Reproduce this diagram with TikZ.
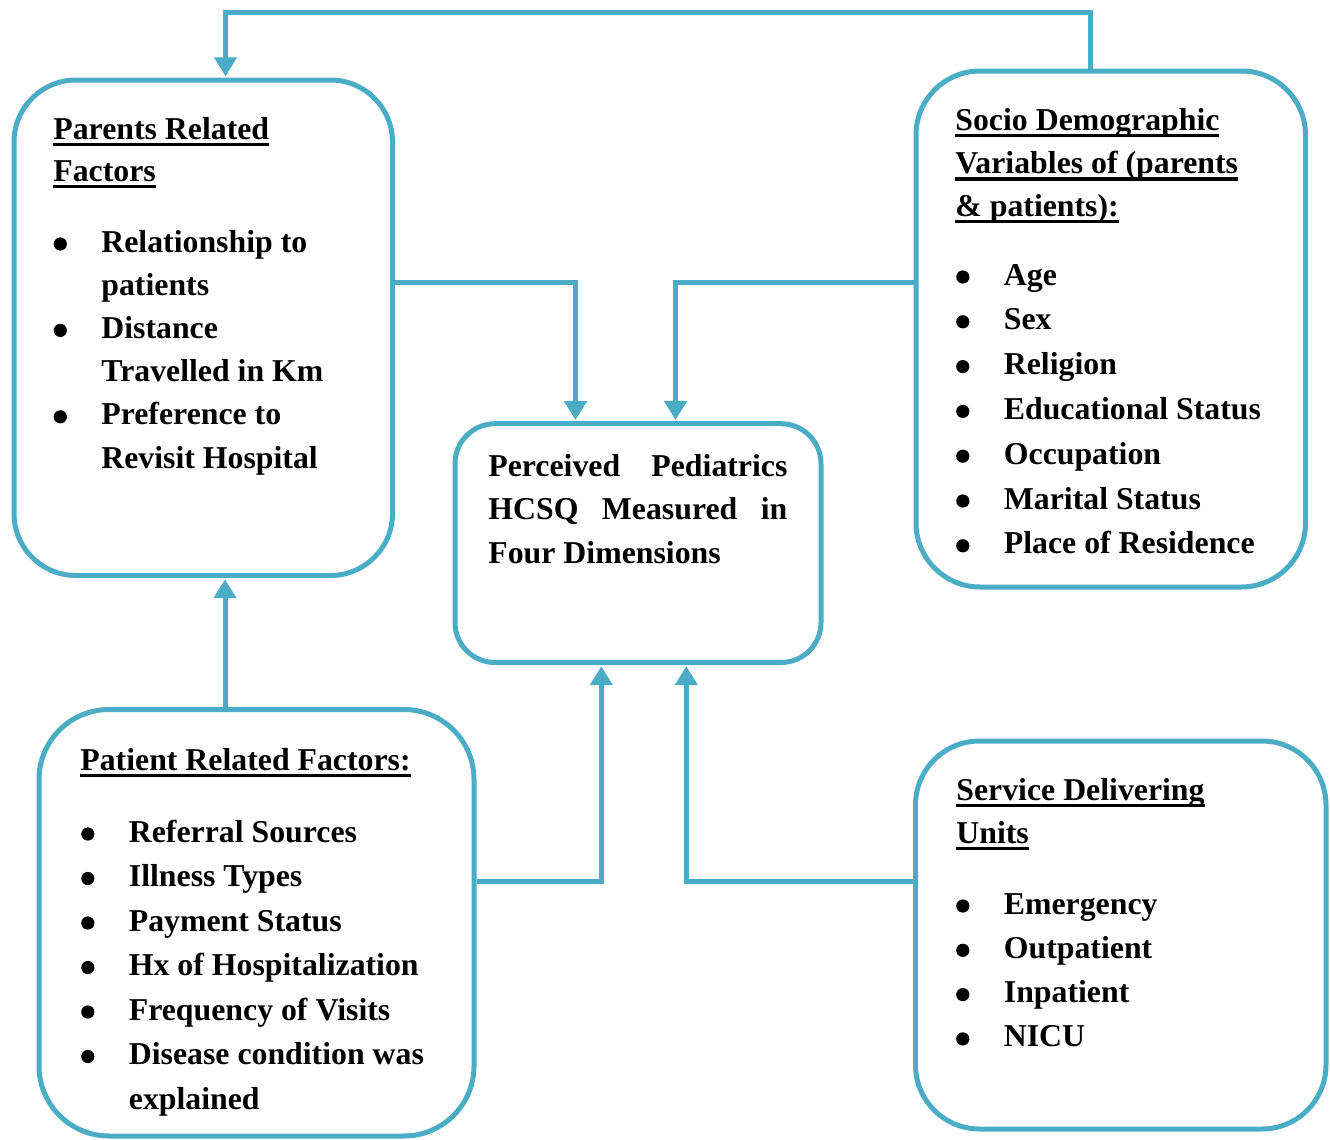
\documentclass[tikz,border=0pt]{standalone}
\usepackage{fontspec}
\setmainfont{Liberation Serif}
\usetikzlibrary{arrows.meta}
\definecolor{hcblue}{HTML}{4BACC6}
\newsavebox{\hdbox}
\newcommand{\hd}[1]{\sbox{\hdbox}{#1}\rlap{\rule[-3.5pt]{\wd\hdbox}{1.65pt}}\usebox{\hdbox}}
\tikzset{
  box/.style={draw=hcblue, line width=2.5pt, inner sep=0pt},
  link/.style={draw=hcblue, line width=2.5pt, -{Triangle[width=11pt,length=9.5pt]}, shorten >=0.6pt},
  txt/.style={anchor=base west, inner sep=0pt, font=\bfseries\fontsize{15.9}{19}\selectfont},
  item/.style={txt, append after command={\pgfextra{\fill ([shift={(-20.35pt,4pt)}]\tikzlastnode.base west) circle (3.3pt);}}},
}
\begin{document}
\begin{tikzpicture}[x=0.5pt, y=-0.5pt]
  \useasboundingbox (0,0) rectangle (1330,1140);

  % boxes
  \node[box, rounded corners=31pt, minimum width=189.25pt, minimum height=247.75pt] (parents) at (203.25,327.75) {};
  \node[box, rounded corners=32pt, minimum width=194.75pt, minimum height=258pt] (socio) at (1110.75,329) {};
  \node[box, rounded corners=20pt, minimum width=183pt, minimum height=119.4pt] (center) at (638,543.1) {};
  \node[box, rounded corners=35pt, minimum width=217.5pt, minimum height=213.25pt] (patient) at (256.5,922.75) {};
  \node[box, rounded corners=32pt, minimum width=205.25pt, minimum height=194pt] (service) at (1120.75,935) {};

  % parents related factors
  \node[txt] (parh1) at (53,139) {\hd{Parents Related}};
  \node[txt] (parh2) at (53,181) {\hd{Factors}};
  \foreach \t/\s [count=\i from 0] in {Relationship to/item, patients/txt, Distance/item,
      Travelled in Km/txt, Preference to/item, Revisit Hospital/txt}
    \node[\s] (par\i) at (101,252+43.2*\i) {\t};

  % socio demographic variables
  \node[txt] (soch1) at (955,130) {\hd{Socio Demographic}};
  \node[txt] (soch2) at (955,173.5) {\hd{Variables of (parents}};
  \node[txt] (soch3) at (955,216) {\hd{\& patients):}};
  \foreach \t [count=\i from 0] in {Age, Sex, Religion, Educational Status, Occupation,
      Marital Status, Place of Residence}
    \node[item] (soc\i) at (1003.5,285+44.8*\i) {\t};

  % perceived HCSQ
  \node[txt] (cen1) at (488,476) {\makebox[149.5pt][s]{Perceived Pediatrics}};
  \node[txt] (cen2) at (488,519.5) {\makebox[149.5pt][s]{HCSQ Measured in}};
  \node[txt] (cen3) at (488,563) {Four Dimensions};

  % patient related factors
  \node[txt] (path1) at (80,770) {\hd{Patient Related Factors:}};
  \foreach \t/\s [count=\i from 0] in {Referral Sources/item, Illness Types/item, Payment Status/item,
      Hx of Hospitalization/item, Frequency of Visits/item, Disease condition was/item, explained/txt}
    \node[\s] (pat\i) at (128.5,842+44.5*\i) {\t};

  % service delivering units
  \node[txt] (serh1) at (956,800) {\hd{Service Delivering}};
  \node[txt] (serh2) at (956,843) {\hd{Units}};
  \foreach \t [count=\i from 0] in {Emergency, Outpatient, Inpatient, NICU}
    \node[item] (ser\i) at (1003.5,914+44.3*\i) {\t};

  % connectors
  \coordinate (topR) at (1090,12.5);
  \coordinate (topL) at (225.5,12.5);
  \draw[link] (topR |- socio.north) -- (topR) -- (topL) -- (topL |- parents.north);
  \coordinate (pc) at (575.5,282);
  \draw[link] (pc -| parents.east) -- (pc) -- (pc |- center.north);
  \coordinate (sc) at (675.5,282);
  \draw[link] (sc -| socio.west) -- (sc) -- (sc |- center.north);
  \coordinate (pp) at (225,640);
  \draw[link] (pp |- patient.north) -- (pp |- parents.south);
  \coordinate (tc) at (601.3,881);
  \draw[link] (tc -| patient.east) -- (tc) -- (tc |- center.south);
  \coordinate (vc) at (686.3,881);
  \draw[link] (vc -| service.west) -- (vc) -- (vc |- center.south);
\end{tikzpicture}
\end{document}
